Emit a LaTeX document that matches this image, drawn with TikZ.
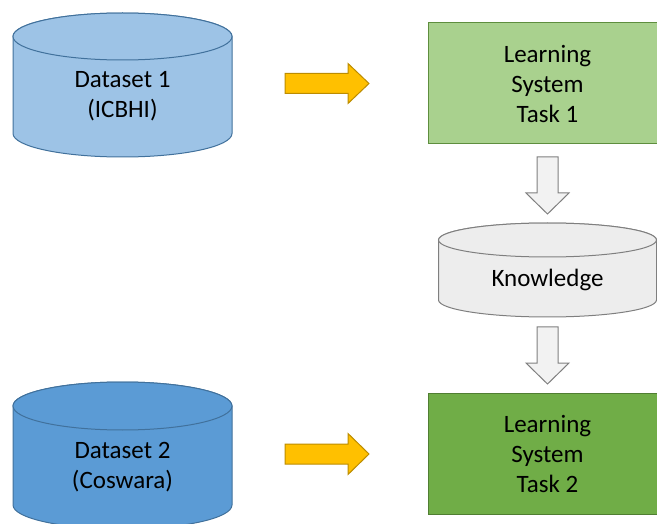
\documentclass[tikz,border=0pt]{standalone}
\usepackage{fontspec}
\setmainfont{Carlito}
\definecolor{cylA}{HTML}{9DC3E6}
\definecolor{cylB}{HTML}{5B9BD5}
\definecolor{cylLine}{HTML}{41719C}
\definecolor{boxA}{HTML}{A9D18E}
\definecolor{boxAline}{HTML}{5E8E3E}
\definecolor{boxB}{HTML}{70AD47}
\definecolor{boxBline}{HTML}{507E32}
\definecolor{knowFill}{HTML}{EDEDED}
\definecolor{grayLine}{HTML}{7F7F7F}
\definecolor{arrGray}{HTML}{F2F2F2}
\definecolor{orange}{HTML}{FFC000}
\definecolor{orangeLine}{HTML}{BC8C00}
\tikzset{
  lbl/.style={align=center,font=\fontsize{25}{30}\selectfont,text=black,inner sep=0pt},
  lsbox/.style={draw,line width=1pt,minimum width=239pt,minimum height=121pt,inner sep=0pt,align=center,font=\fontsize{25}{30}\selectfont},
  orangearr/.style={fill=orange,draw=orangeLine,line width=1pt,line join=miter},
  grayarr/.style={fill=arrGray,draw=grayLine,line width=1pt,line join=miter},
}
% cylinder: #1 cx, #2 top center y, #3 bottom center y, #4 rx, #5 ry, #6 style
\newcommand{\mycyl}[6]{%
  \path[#6] (#1-#4,-#2) -- (#1-#4,-#3) arc[start angle=180,end angle=360,x radius=#4,y radius=#5]
     -- (#1+#4,-#2) arc[start angle=0,end angle=180,x radius=#4,y radius=#5] -- cycle;
  \path[#6] (#1,-#2) ellipse[x radius=#4,y radius=#5];
}
% right block arrow: #1 x left, #2 center y, #3 head x, #4 tip x, #5 shaft half, #6 head half
\newcommand{\rarrow}[6]{%
  \path[orangearr] (#1,-#2+#5) -- (#3,-#2+#5) -- (#3,-#2+#6) -- (#4,-#2) -- (#3,-#2-#6) -- (#3,-#2-#5) -- (#1,-#2-#5) -- cycle;
}
% down block arrow: #1 center x, #2 top y, #3 head y, #4 tip y, #5 shaft half, #6 head half
\newcommand{\darrow}[6]{%
  \path[grayarr] (#1-#5,-#2) -- (#1+#5,-#2) -- (#1+#5,-#3) -- (#1+#6,-#3) -- (#1,-#4) -- (#1-#6,-#3) -- (#1-#5,-#3) -- cycle;
}
\begin{document}
\begin{tikzpicture}[x=1pt,y=1pt]
\useasboundingbox (0,0) rectangle (657,-524);
\clip (0,0) rectangle (657,-524);
% datasets
\mycyl{122.5}{36.5}{133.5}{109.5}{23.5}{fill=cylA,draw=cylLine,line width=1pt}
\node[lbl] (d1) at (122.5,-96) {Dataset 1\\(ICBHI)};
\mycyl{122.5}{406}{505}{109.5}{24}{fill=cylB,draw=cylLine,line width=1pt}
\node[lbl] (d2) at (122.5,-467) {Dataset 2\\(Coswara)};
% learning systems
\node[lsbox,fill=boxA,draw=boxAline] (ls1) at (547.5,-83.5) {Learning\\System\\Task 1};
\node[lsbox,fill=boxB,draw=boxBline] (ls2) at (547.5,-454) {Learning\\System\\Task 2};
% knowledge
\mycyl{547.5}{240}{300}{109}{17}{fill=knowFill,draw=grayLine,line width=1pt}
\node[lbl] (kn) at (547.5,-280) {Knowledge};
% arrows
\rarrow{285}{83.5}{348}{369}{10}{20}
\rarrow{285}{454}{348}{369}{10}{20.5}
\darrow{547.5}{157}{193}{214}{10.5}{21.5}
\darrow{547.5}{327}{363}{384}{10.5}{21.5}
\end{tikzpicture}
\end{document}
